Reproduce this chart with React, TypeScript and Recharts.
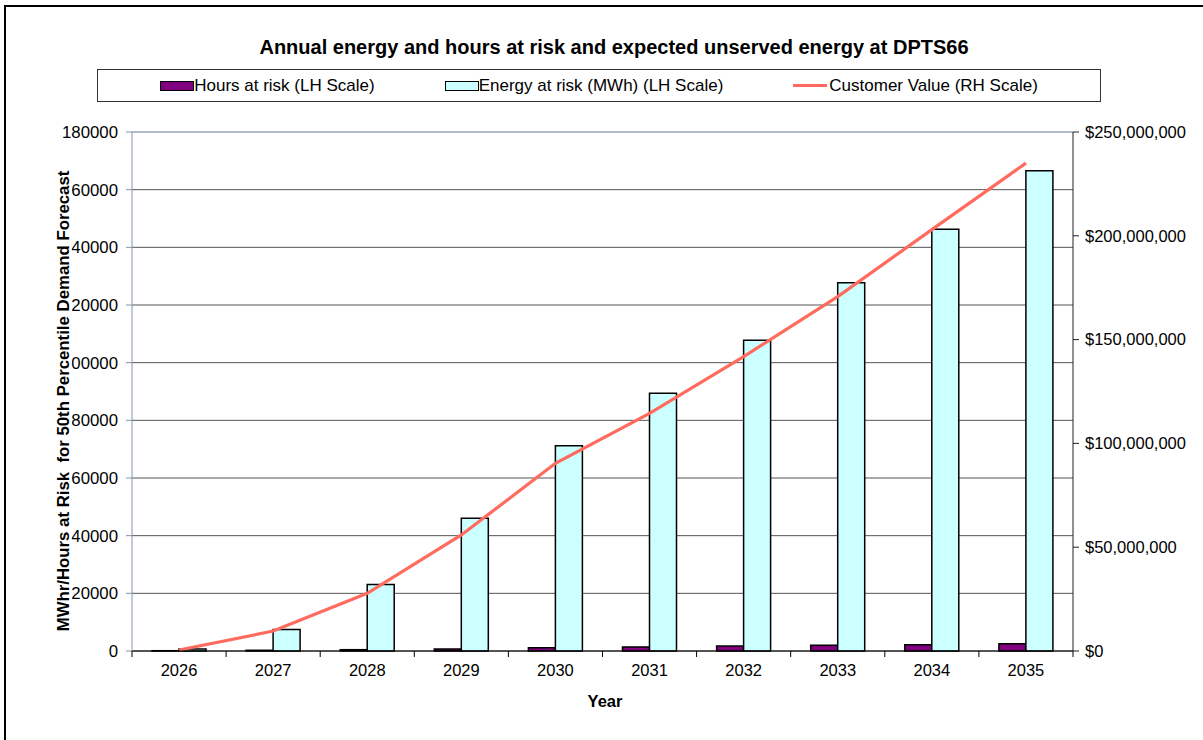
import React from "react"
import {
  ComposedChart,
  Bar,
  Line,
  XAxis,
  YAxis,
  CartesianGrid,
  ReferenceLine
} from "recharts"

const years = ["2026", "2027", "2028", "2029", "2030", "2031", "2032", "2033", "2034", "2035"]
const hoursAtRisk = [100, 250, 450, 700, 1150, 1400, 1700, 2000, 2200, 2500]
const energyAtRisk = [700, 7500, 23100, 46000, 71200, 89400, 107800, 127700, 146300, 166600]
const customerValue = [500000, 9600000, 27800000, 55900000, 90400000, 114500000, 141800000, 170700000, 203000000, 235000000]

const leftTicks = [0, 20000, 40000, 60000, 80000, 100000, 120000, 140000, 160000, 180000]
const rightTicks = [0, 50000000, 100000000, 150000000, 200000000, 250000000]

const data = years.map((y, i) => ({
  year: y,
  hours: hoursAtRisk[i],
  energy: energyAtRisk[i],
  value: customerValue[i]
}))

const FONT = '"Liberation Sans", Arial, sans-serif'

const money = (v: number) => "$" + v.toLocaleString("en-US")

// year label + the small tick marks sitting on the category edges
function YearTick(props: any) {
  const { x, y, payload, index, visibleTicksCount } = props
  const off = payload.offset || 0
  const last = index === visibleTicksCount - 1
  return (
    <g>
      <line x1={x - off} x2={x - off} y1={y - 13} y2={y - 7} stroke="#000" />
      {last && <line x1={x + off} x2={x + off} y1={y - 13} y2={y - 7} stroke="#000" />}
      <text x={x} y={y} dy="0.71em" textAnchor="middle" fill="#000" fontSize={16.5} fontFamily={FONT}>
        {payload.value}
      </text>
    </g>
  )
}

export default function App() {
  return (
    <div style={{ position: "absolute", left: 0, top: 0, width: 1203, height: 740, overflow: "hidden", background: "#fff", fontFamily: FONT }}>

      {/* outer frame */}
      <div style={{ position: "absolute", left: 4, top: 5, width: 1300, height: 800, borderLeft: "2px solid #000", borderTop: "2px solid #000" }} />

      <ComposedChart
        width={1203}
        height={740}
        data={data}
        margin={{ top: 132, right: 0, bottom: 49, left: 0 }}
        barGap={0}
      >
        <CartesianGrid yAxisId="left" vertical={false} stroke="#555" />
        <XAxis
          dataKey="year"
          height={40}
          stroke="#000"
          tickLine={false}
          tickSize={0}
          tickMargin={13}
          tick={<YearTick />}
          interval={0}
        />
        <YAxis
          yAxisId="left"
          width={132}
          domain={[0, 180000]}
          ticks={leftTicks}
          interval={0}
          stroke="#8594a6"
          tickSize={6}
          tickMargin={8}
          tick={{ fill: "#000", fontSize: 16.8, fontFamily: FONT }}
        />
        <YAxis
          yAxisId="right"
          orientation="right"
          width={130}
          domain={[0, 250000000]}
          ticks={rightTicks}
          interval={0}
          stroke="#222"
          tickSize={6}
          tickMargin={6}
          tickFormatter={money}
          tick={{ fill: "#000", fontSize: 16.5, fontFamily: FONT }}
        />
        <ReferenceLine yAxisId="left" y={180000} stroke="#b4cce8" />

        <Bar yAxisId="left" dataKey="hours" barSize={27} fill="#800080" stroke="#000" strokeWidth={1.5} isAnimationActive={false} />
        <Bar yAxisId="left" dataKey="energy" barSize={27} fill="#ccffff" stroke="#000" strokeWidth={1.5} isAnimationActive={false} />
        <Line yAxisId="right" dataKey="value" type="linear" stroke="#ff6b5e" strokeWidth={3.2} dot={false} isAnimationActive={false} />
      </ComposedChart>

      {/* title */}
      <div style={{ position: "absolute", left: 0, width: 1228, top: 36, textAlign: "center", fontWeight: "bold", fontSize: 20, lineHeight: "22px", color: "#000" }}>
        Annual energy and hours at risk and expected unserved energy at DPTS66
      </div>

      {/* legend */}
      <div style={{
        position: "absolute", left: 97, top: 69, width: 1002, height: 31,
        border: "1px solid #333", display: "flex", alignItems: "center",
        justifyContent: "center", gap: 70, fontSize: 17, color: "#000"
      }}>
        <span style={{ display: "flex", alignItems: "center" }}>
          <span style={{ width: 32, height: 8, background: "#800080", border: "1px solid #000" }} />
          Hours at risk (LH Scale)
        </span>
        <span style={{ display: "flex", alignItems: "center" }}>
          <span style={{ width: 32, height: 8, background: "#ccffff", border: "1px solid #000" }} />
          Energy at risk (MWh) (LH Scale)
        </span>
        <span style={{ display: "flex", alignItems: "center" }}>
          <span style={{ width: 34, height: 3, background: "#ff6b5e", marginRight: 2 }} />
          Customer Value (RH Scale)
        </span>
      </div>

      {/* left axis title, drawn over the tick labels like the original */}
      <div style={{
        position: "absolute", left: 63, top: 401, transform: "translate(-50%, -50%) rotate(-90deg)",
        whiteSpace: "pre", background: "#fff", fontWeight: "bold", fontSize: 16.8, lineHeight: "17px", color: "#000"
      }}>
        {"MWhr/Hours at Risk  for 50th Percentile Demand Forecast"}
      </div>

      {/* x axis title */}
      <div style={{ position: "absolute", left: 605, top: 701, transform: "translate(-50%, -50%)", fontWeight: "bold", fontSize: 16.5, color: "#000" }}>
        Year
      </div>
    </div>
  )
}
